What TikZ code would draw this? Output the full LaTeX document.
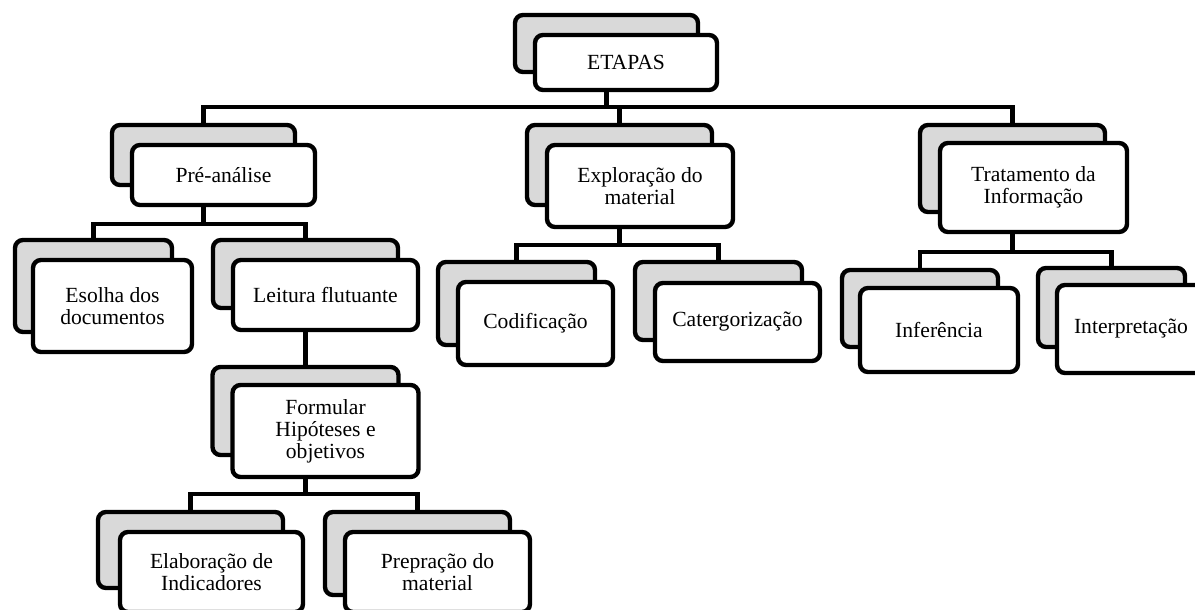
\documentclass[tikz,border=0pt]{standalone}
\usepackage{fontspec}
\setmainfont{Liberation Serif}
\usetikzlibrary{backgrounds}
\definecolor{boxgray}{HTML}{D9D9D9}
\begin{document}
\begin{tikzpicture}[x=1pt,y=-1pt,
  backbox/.style={draw, line width=4.4pt, rounded corners=8pt, fill=boxgray, inner sep=0pt},
  frontbox/.style={draw, line width=4.4pt, rounded corners=8pt, fill=white, inner sep=2pt, align=center,
     font=\fontsize{21.6}{22}\selectfont},
  conn/.style={line width=4.2pt}]
\useasboundingbox (0,0) rectangle (1195,610);
\clip (0,0) rectangle (1195,610);

% bus levels
\coordinate (b0) at (0,107);
\coordinate (b1) at (0,224);
\coordinate (b2) at (0,494);
\coordinate (b3) at (0,245);
\coordinate (b4) at (0,252);

% back boxes
\node[backbox, minimum width=183pt, minimum height=57pt] (g0) at (606.5,43.5) {};
\node[backbox, minimum width=183pt, minimum height=60pt] (g1) at (203.5,155) {};
\node[backbox, minimum width=185pt, minimum height=80pt] (g2) at (619.5,165) {};
\node[backbox, minimum width=185pt, minimum height=87pt] (g3) at (1012.5,168.5) {};
\node[backbox, minimum width=157pt, minimum height=92pt] (g4) at (93.5,286) {};
\node[backbox, minimum width=185pt, minimum height=68pt] (g5) at (305.5,274) {};
\node[backbox, minimum width=186pt, minimum height=88pt] (g6) at (305.5,411) {};
\node[backbox, minimum width=185pt, minimum height=76pt] (g7) at (190.5,550) {};
\node[backbox, minimum width=185pt, minimum height=83pt] (g8) at (417.5,553.5) {};
\node[backbox, minimum width=157pt, minimum height=83pt] (g9) at (516.5,303.5) {};
\node[backbox, minimum width=167pt, minimum height=78pt] (g10) at (718.5,301) {};
\node[backbox, minimum width=156pt, minimum height=77pt] (g11) at (920,308.5) {};
\node[backbox, minimum width=147pt, minimum height=79pt] (g12) at (1111.5,307.5) {};

% front boxes
\node[frontbox, minimum width=182pt, minimum height=55pt] (w0) at (626,62.5) {ETAPAS};
\node[frontbox, minimum width=183pt, minimum height=60pt] (w1) at (223.5,175) {Pré-análise};
\node[frontbox, minimum width=186pt, minimum height=82pt] (w2) at (640,186) {Exploração do\\material};
\node[frontbox, minimum width=187pt, minimum height=89pt] (w3) at (1033.5,187.5) {Tratamento da\\Informação};
\node[frontbox, minimum width=159pt, minimum height=92pt] (w4) at (112.5,306) {Esolha dos\\documentos};
\node[frontbox, minimum width=185pt, minimum height=70pt] (w5) at (325.5,295) {Leitura flutuante};
\node[frontbox, minimum width=186pt, minimum height=92pt] (w6) at (325.5,431) {Formular\\Hipóteses e\\objetivos};
\node[frontbox, minimum width=183pt, minimum height=80pt] (w7) at (211.5,572) {Elaboração de\\Indicadores};
\node[frontbox, minimum width=185pt, minimum height=80pt] (w8) at (437.5,572) {Prepração do\\material};
\node[frontbox, minimum width=155pt, minimum height=83pt] (w9) at (535.5,323.5) {Codificação};
\node[frontbox, minimum width=165pt, minimum height=78pt] (w10) at (737.5,322) {Catergorização};
\node[frontbox, minimum width=158pt, minimum height=84pt] (w11) at (939,330) {Inferência};
\node[frontbox, minimum width=148pt, minimum height=88pt] (w12) at (1131,329) {Interpretação};

% connectors (behind boxes)
\begin{scope}[on background layer]
  % ETAPAS -> level 1
  \draw[conn] (w0.south -| g0.north) -- (b0 -| g0.north);
  \draw[conn] (g1.north) -- (b0 -| g1.north) -- (b0 -| g3.north) -- (g3.north);
  \draw[conn] (g2.north) -- (b0 -| g2.north);
  % Pre-analise -> Esolha, Leitura
  \draw[conn] (w1.south -| g1.north) -- (b1 -| g1.north);
  \draw[conn] (g4.north) -- (b1 -| g4.north) -- (b1 -| g5.north) -- (g5.north);
  % Leitura -> Formular
  \draw[conn] (w5.south -| g5.north) -- (g6.north);
  % Formular -> Elaboracao, Prepracao
  \draw[conn] (w6.south -| g6.north) -- (b2 -| g6.north);
  \draw[conn] (g7.north) -- (b2 -| g7.north) -- (b2 -| g8.north) -- (g8.north);
  % Exploracao -> Codificacao, Catergorizacao
  \draw[conn] (w2.south -| g2.north) -- (b3 -| g2.north);
  \draw[conn] (g9.north) -- (b3 -| g9.north) -- (b3 -| g10.north) -- (g10.north);
  % Tratamento -> Inferencia, Interpretacao
  \draw[conn] (w3.south -| g3.north) -- (b4 -| g3.north);
  \draw[conn] (g11.north) -- (b4 -| g11.north) -- (b4 -| g12.north) -- (g12.north);
\end{scope}
\end{tikzpicture}
\end{document}
